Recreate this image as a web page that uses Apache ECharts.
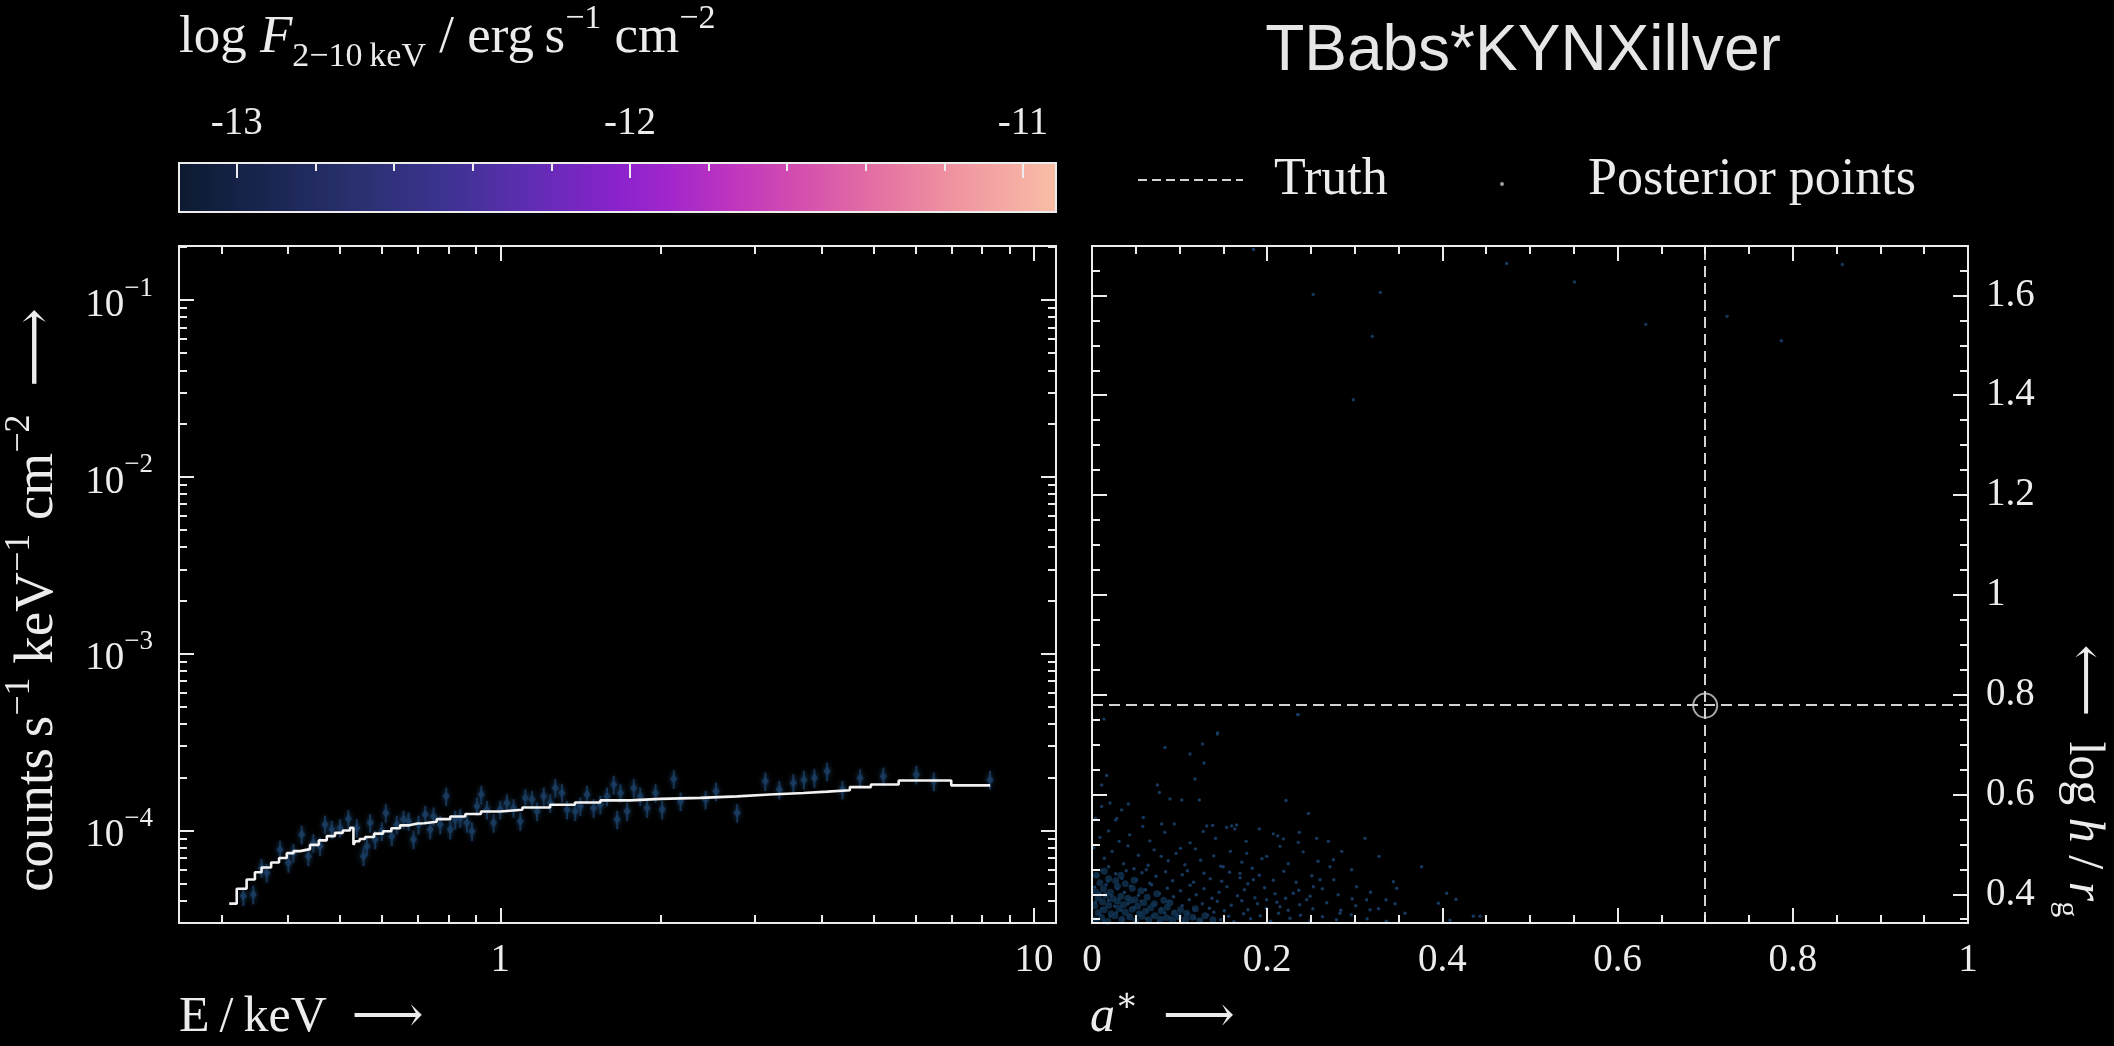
<!DOCTYPE html>
<html>
<head>
<meta charset="utf-8">
<script src="https://cdn.jsdelivr.net/npm/echarts@6/dist/echarts.min.js"></script>
<style>
  html, body { margin: 0; padding: 0; background: #000; }
  #chart { width: 2114px; height: 1046px; }
</style>
</head>
<body>
<div id="chart"></div>
<script>
// ---------- spectrum panel (counts vs energy) ----------
const energyRange = [0.25, 11];
const rateRange = [3.0e-5, 0.202];

// folded model, step histogram: bin left edges (keV) and rate in each bin
const modelEnergy = [0.3105, 0.3207, 0.3347, 0.3469, 0.357, 0.372, 0.385, 0.398, 0.41, 0.4215,
  0.44, 0.457, 0.473, 0.49, 0.507, 0.523, 0.5306, 0.535, 0.545, 0.558,
  0.58, 0.603, 0.625, 0.649, 0.675, 0.700, 0.705, 0.72, 0.76, 0.806,
  0.86, 0.92, 1.0, 1.1, 1.24, 1.38, 1.54, 1.75, 2.0, 2.37,
  2.78, 3.2, 3.7, 4.1, 4.52, 4.95, 5.58, 7.0, 8.28];
const modelRate = [3.86e-5, 4.69e-5, 5.29e-5, 5.81e-5, 6.18e-5, 6.6e-5, 7.0e-5, 7.45e-5, 7.65e-5, 7.85e-5,
  8.3e-5, 8.8e-5, 9.3e-5, 9.7e-5, 1.0e-4, 1.036e-4, 8.3e-5, 8.7e-5, 8.95e-5, 9.2e-5,
  9.6e-5, 9.9e-5, 1.03e-4, 1.07e-4, 1.095e-4, 1.08e-4, 1.1e-4, 1.12e-4, 1.16e-4, 1.20e-4,
  1.24e-4, 1.28e-4, 1.31e-4, 1.35e-4, 1.40e-4, 1.44e-4, 1.48e-4, 1.51e-4, 1.53e-4, 1.56e-4,
  1.60e-4, 1.63e-4, 1.66e-4, 1.69e-4, 1.76e-4, 1.82e-4, 1.92e-4, 1.80e-4, 1.80e-4];

// simulated observation
const dataEnergy = [0.330, 0.3445, 0.357, 0.365, 0.3866, 0.4009, 0.4096, 0.4245, 0.4369, 0.4465,
  0.4596, 0.4695, 0.4833, 0.5010, 0.5192, 0.5384, 0.5542, 0.5623, 0.5704, 0.5829,
  0.5998, 0.6102, 0.6262, 0.6399, 0.6586, 0.6730, 0.6877, 0.7027, 0.7234, 0.7391,
  0.7497, 0.7718, 0.7918, 0.8058, 0.8233, 0.8414, 0.8660, 0.8849, 0.9043, 0.9213,
  0.9441, 0.9716, 1.0, 1.029, 1.059, 1.090, 1.114, 1.147, 1.172, 1.206,
  1.241, 1.268, 1.305, 1.334, 1.382, 1.413, 1.454, 1.496, 1.540, 1.585,
  1.632, 1.656, 1.680, 1.729, 1.779, 1.830, 1.884, 1.954, 2.011, 2.114, 2.177,
  2.425, 2.537,
  2.779, 3.138, 3.334, 3.542, 3.706, 3.879, 4.097, 4.377, 4.724, 5.221, 6.020, 6.493, 8.274];
const dataRate = [4.26e-5, 4.35e-5, 6.16e-5, 5.77e-5, 7.81e-5, 6.57e-5, 7.48e-5, 9.49e-5, 7.16e-5, 8.52e-5,
  8.16e-5, 1.081e-4, 1.013e-4, 1.035e-4, 1.164e-4, 1.035e-4, 7.16e-5, 8.16e-5, 1.105e-4, 8.90e-5,
  9.91e-5, 1.258e-4, 9.29e-5, 1.081e-4, 1.154e-4, 1.129e-4, 8.90e-5, 1.081e-4, 1.231e-4, 1.013e-4,
  1.205e-4, 1.081e-4, 1.562e-4, 1.013e-4, 1.154e-4, 1.179e-4, 1.105e-4, 9.91e-5, 1.372e-4, 1.597e-4,
  1.314e-4, 1.105e-4, 1.314e-4, 1.432e-4, 1.342e-4, 1.129e-4, 1.529e-4, 1.496e-4, 1.285e-4, 1.562e-4,
  1.432e-4, 1.741e-4, 1.632e-4, 1.314e-4, 1.285e-4, 1.372e-4, 1.597e-4, 1.342e-4, 1.402e-4, 1.562e-4,
  1.818e-4, 1.154e-4, 1.632e-4, 1.285e-4, 1.741e-4, 1.562e-4, 1.342e-4, 1.632e-4, 1.314e-4, 1.957e-4, 1.463e-4,
  1.496e-4, 1.667e-4,
  1.259e-4, 1.897e-4, 1.704e-4, 1.858e-4, 1.940e-4, 1.983e-4, 2.161e-4, 1.704e-4, 1.983e-4, 2.025e-4, 2.070e-4, 1.897e-4, 1.940e-4];
const dataRelErr = 0.12;

const energyMajorTicks = [1, 10];
const energyMinorTicks = [0.3, 0.4, 0.5, 0.6, 0.7, 0.8, 0.9, 2, 3, 4, 5, 6, 7, 8, 9];
const rateMajorTicks = [1e-4, 1e-3, 1e-2, 1e-1];
const rateMinorTicks = [4e-5, 5e-5, 6e-5, 7e-5, 8e-5, 9e-5,
  2e-4, 3e-4, 4e-4, 5e-4, 6e-4, 7e-4, 8e-4, 9e-4,
  2e-3, 3e-3, 4e-3, 5e-3, 6e-3, 7e-3, 8e-3, 9e-3,
  2e-2, 3e-2, 4e-2, 5e-2, 6e-2, 7e-2, 8e-2, 9e-2, 0.2];

// ---------- posterior panel (spin vs log height) ----------
const spinRange = [0, 1];
const logHRange = [0.3424, 1.699];
const truthSpin = 0.7;
const truthLogH = 0.778;
const spinMajorTicks = [0, 0.2, 0.4, 0.6, 0.8, 1];
const spinMinorTicks = [0.05, 0.1, 0.15, 0.25, 0.3, 0.35, 0.45, 0.5, 0.55, 0.65, 0.7, 0.75, 0.85, 0.9, 0.95];
const logHMajorTicks = [0.4, 0.6, 0.8, 1.0, 1.2, 1.4, 1.6];
const logHMinorTicks = [0.35, 0.45, 0.5, 0.55, 0.65, 0.7, 0.75, 0.85, 0.9, 0.95, 1.05, 1.1, 1.15,
  1.25, 1.3, 1.35, 1.45, 1.5, 1.55, 1.65];

// posterior samples [a*, log h]: stray samples far from the bulk
const posteriorOutliers = [
  [0.1843, 1.692], [0.2525, 1.602], [0.3292, 1.606], [0.4733, 1.664], [0.5507, 1.627], [0.6321, 1.542],
  [0.3200, 1.518], [0.2983, 1.391], [0.7249, 1.558], [0.7869, 1.509], [0.8566, 1.662], [0.2347, 0.760], [0.1434, 0.723],
  [0.0137, 0.751], [0.2355, 0.760], [0.1431, 0.721], [0.0833, 0.694], [0.1263, 0.701], [0.1119, 0.681],
  [0.1279, 0.663], [0.0167, 0.638], [0.0110, 0.619], [0.1176, 0.631], [0.0746, 0.619], [0.0769, 0.604],
  [0.0890, 0.591], [0.1024, 0.589], [0.1225, 0.589], [0.2215, 0.588], [0.0415, 0.581], [0.0205, 0.583],
  [0.0110, 0.576], [0.0339, 0.569], [0.2470, 0.562], [0.0586, 0.554], [0.0795, 0.541], [0.0282, 0.552],
  [0.1309, 0.537], [0.1377, 0.538], [0.1594, 0.537], [0.1651, 0.539], [0.1537, 0.534], [0.1910, 0.531],
  [0.2070, 0.521], [0.2367, 0.524], [0.2184, 0.511], [0.2355, 0.504], [0.2565, 0.512], [0.2698, 0.506],
  [0.3116, 0.512], [0.2850, 0.486], [0.3276, 0.476], [0.3763, 0.455], [0.4049, 0.402], [0.4155, 0.390],
  [0.3954, 0.382], [0.3440, 0.425], [0.3478, 0.412], [0.3356, 0.389], [0.3135, 0.389], [0.3021, 0.415],
  [0.2964, 0.449], [0.2755, 0.469], [0.2717, 0.455], [0.2603, 0.429], [0.2527, 0.415], [0.2451, 0.389],
  [0.2146, 0.375], [0.2298, 0.402], [0.1994, 0.389], [0.1842, 0.429], [0.1689, 0.442], [0.1499, 0.455],
  [0.1766, 0.482], [0.1994, 0.476], [0.2146, 0.496], [0.4353, 0.356], [0.4429, 0.356], [0.4087, 0.348],
  [0.3573, 0.362], [0.3174, 0.369], [0.2831, 0.362]
];
// bulk of the posterior cloud
const posteriorBulk = [
  [0.004, 0.552], [0.019, 0.527], [0.027, 0.549], [0.043, 0.519], [0.058, 0.536], [0.066, 0.507],
  [0.083, 0.524], [0.094, 0.541], [0.112, 0.503], [0.127, 0.526], [0.141, 0.512], [0.163, 0.531],
  [0.176, 0.506], [0.212, 0.517], [0.031, 0.506], [0.009, 0.514],
  [0.002, 0.493], [0.014, 0.472], [0.023, 0.486], [0.036, 0.461], [0.041, 0.497], [0.053, 0.478],
  [0.064, 0.458], [0.071, 0.489], [0.087, 0.467], [0.096, 0.482], [0.106, 0.459], [0.118, 0.491],
  [0.124, 0.468], [0.139, 0.477], [0.147, 0.456], [0.158, 0.486], [0.171, 0.464], [0.183, 0.452],
  [0.194, 0.471], [0.224, 0.461], [0.241, 0.485], [0.258, 0.466], [0.019, 0.455], [0.048, 0.451],
  [0.079, 0.476], [0.101, 0.492],
  [0.005, 0.437], [0.011, 0.448], [0.018, 0.426], [0.027, 0.441], [0.034, 0.432], [0.039, 0.447],
  [0.051, 0.429], [0.057, 0.443], [0.066, 0.422], [0.073, 0.436], [0.084, 0.445], [0.092, 0.427],
  [0.103, 0.439], [0.116, 0.424], [0.128, 0.442], [0.135, 0.431], [0.148, 0.426], [0.157, 0.444],
  [0.169, 0.433], [0.178, 0.421], [0.191, 0.438], [0.207, 0.428], [0.219, 0.446], [0.233, 0.424],
  [0.251, 0.437], [0.276, 0.429], [0.062, 0.449], [0.109, 0.447],
  [0.003, 0.414], [0.009, 0.402], [0.016, 0.419], [0.022, 0.397], [0.029, 0.411], [0.037, 0.404],
  [0.044, 0.416], [0.053, 0.398], [0.061, 0.409], [0.068, 0.419], [0.077, 0.401], [0.086, 0.412],
  [0.093, 0.395], [0.101, 0.407], [0.112, 0.418], [0.119, 0.399], [0.128, 0.411], [0.137, 0.392],
  [0.145, 0.404], [0.154, 0.415], [0.166, 0.397], [0.174, 0.409], [0.186, 0.393], [0.197, 0.413],
  [0.209, 0.401], [0.221, 0.392], [0.236, 0.408], [0.249, 0.396], [0.263, 0.411], [0.281, 0.399],
  [0.297, 0.391], [0.318, 0.404],
  [0.004, 0.384], [0.011, 0.371], [0.019, 0.388], [0.026, 0.376], [0.033, 0.368], [0.041, 0.381],
  [0.048, 0.373], [0.056, 0.386], [0.063, 0.367], [0.071, 0.379], [0.079, 0.371], [0.087, 0.385],
  [0.094, 0.366], [0.103, 0.377], [0.111, 0.389], [0.117, 0.369], [0.126, 0.381], [0.134, 0.372],
  [0.143, 0.386], [0.151, 0.367], [0.159, 0.378], [0.171, 0.387], [0.178, 0.369], [0.189, 0.381],
  [0.199, 0.372], [0.211, 0.384], [0.224, 0.368], [0.237, 0.379], [0.252, 0.371], [0.268, 0.383],
  [0.284, 0.368], [0.301, 0.377], [0.327, 0.371], [0.346, 0.381],
  [0.003, 0.352], [0.009, 0.361], [0.014, 0.347], [0.021, 0.356], [0.028, 0.363], [0.035, 0.349],
  [0.042, 0.358], [0.049, 0.345], [0.055, 0.362], [0.062, 0.351], [0.069, 0.357], [0.076, 0.346],
  [0.083, 0.363], [0.089, 0.353], [0.096, 0.359], [0.104, 0.345], [0.109, 0.361], [0.117, 0.352],
  [0.124, 0.347], [0.132, 0.358], [0.139, 0.364], [0.147, 0.349], [0.156, 0.356], [0.162, 0.345],
  [0.173, 0.361], [0.181, 0.351], [0.192, 0.357], [0.204, 0.346], [0.213, 0.362], [0.226, 0.352],
  [0.238, 0.358], [0.249, 0.347], [0.263, 0.355], [0.279, 0.349], [0.296, 0.359], [0.314, 0.351],
  [0.336, 0.346]
];
// densest part of the cloud, drawn with larger dots
const posteriorCore = [
  [0.004, 0.348], [0.011, 0.353], [0.018, 0.346], [0.026, 0.357], [0.034, 0.350], [0.043, 0.355],
  [0.050, 0.347], [0.057, 0.356], [0.065, 0.349], [0.007, 0.363], [0.014, 0.369], [0.022, 0.361],
  [0.031, 0.372], [0.038, 0.364], [0.046, 0.370], [0.054, 0.361], [0.061, 0.366], [0.003, 0.377],
  [0.012, 0.385], [0.019, 0.378], [0.029, 0.386], [0.036, 0.379], [0.044, 0.388], [0.052, 0.376],
  [0.059, 0.383], [0.007, 0.393], [0.016, 0.398], [0.024, 0.391], [0.033, 0.396], [0.041, 0.392],
  [0.049, 0.389], [0.067, 0.373], [0.072, 0.357], [0.078, 0.350], [0.085, 0.353], [0.092, 0.348],
  [0.099, 0.355], [0.107, 0.350], [0.115, 0.354], [0.123, 0.347], [0.004, 0.405], [0.013, 0.411],
  [0.021, 0.404], [0.029, 0.416],
  [0.071, 0.381], [0.079, 0.367], [0.086, 0.374], [0.094, 0.362], [0.101, 0.369], [0.063, 0.394],
  [0.074, 0.401], [0.082, 0.388], [0.056, 0.407], [0.046, 0.412], [0.038, 0.421], [0.009, 0.423],
  [0.019, 0.431], [0.027, 0.427], [0.005, 0.438], [0.014, 0.446], [0.033, 0.438], [0.048, 0.428],
  [0.089, 0.383], [0.108, 0.362], [0.118, 0.371], [0.129, 0.357], [0.138, 0.349]
];

// ---------- colour bar: log F(2-10 keV) ----------
const fluxRange = [-13.147, -10.916];
const fluxMajorTicks = [-13, -12, -11];
const fluxMinorTicks = [-12.8, -12.6, -12.4, -12.2, -11.8, -11.6, -11.4, -11.2];
const fluxColorStops = [
  [0.00, '#0c1a30'], [0.10, '#1a2550'], [0.20, '#29306e'], [0.30, '#3b338f'],
  [0.40, '#5f2db3'], [0.50, '#8a22cc'], [0.56, '#a126cb'], [0.63, '#bf35bf'],
  [0.71, '#d44fae'], [0.79, '#e36ea3'], [0.88, '#ef92a0'], [1.00, '#f9bea6']
];

// ---------- styling ----------
const FG = '#ececec';
const SERIF = '"Liberation Serif", "DejaVu Serif", serif';
const SANS = '"Liberation Sans", Arial, sans-serif';
const POINT_BLUE = '#1a3d62';
const CLOUD_BLUE = '#173c64';
const MAJOR_LEN = 15, MINOR_LEN = 8;

// one axis with major ticks (and optional labels) plus a twin carrying minor ticks
function tickAxes(base, majors, minors, label) {
  const major = Object.assign({ z: 10 }, base, {
    axisLine: { show: false, onZero: false },
    axisTick: { show: true, inside: true, length: MAJOR_LEN, customValues: majors,
      lineStyle: { color: FG, width: 2 } },
    axisLabel: label ? Object.assign({ show: true, customValues: majors, color: FG,
      fontFamily: SERIF, fontSize: 39 }, label) : { show: false },
    splitLine: { show: false }
  });
  const minor = Object.assign({ z: 10 }, base, {
    axisLine: { show: false, onZero: false },
    axisTick: { show: true, inside: true, length: MINOR_LEN, customValues: minors,
      lineStyle: { color: FG, width: 2 } },
    axisLabel: { show: false },
    splitLine: { show: false }
  });
  return [major, minor];
}

const powerLabel = {
  margin: 26,
  formatter: v => '{b|10}{s|\u2212' + Math.abs(Math.round(Math.log10(v))) + '}',
  rich: {
    b: { fontFamily: SERIF, fontSize: 39, color: FG, lineHeight: 50, verticalAlign: 'bottom' },
    s: { fontFamily: SERIF, fontSize: 27, color: FG, lineHeight: 36, verticalAlign: 'top' }
  }
};
const decimalLabel = v => (Math.abs(v) < 1e-9 ? '0' : Math.abs(v - 1) < 1e-9 ? '1' : v.toFixed(1));

const energyBase = { type: 'log', gridIndex: 0, min: energyRange[0], max: energyRange[1] };
const rateBase = { type: 'log', gridIndex: 0, min: rateRange[0], max: rateRange[1] };
const spinBase = { type: 'value', gridIndex: 1, min: spinRange[0], max: spinRange[1] };
const logHBase = { type: 'value', gridIndex: 1, min: logHRange[0], max: logHRange[1] };
const fluxBase = { type: 'value', gridIndex: 2, min: fluxRange[0], max: fluxRange[1], position: 'top' };

const xAxes = [].concat(
  tickAxes(Object.assign({ position: 'bottom' }, energyBase), energyMajorTicks, energyMinorTicks,
    { margin: 18, formatter: v => String(Math.round(v)) }),
  tickAxes(Object.assign({ position: 'top' }, energyBase), energyMajorTicks, energyMinorTicks, null),
  tickAxes(Object.assign({ position: 'bottom' }, spinBase), spinMajorTicks, spinMinorTicks,
    { margin: 18, formatter: decimalLabel }),
  tickAxes(Object.assign({ position: 'top' }, spinBase), spinMajorTicks, spinMinorTicks, null),
  tickAxes(fluxBase, fluxMajorTicks, fluxMinorTicks, { margin: 20, formatter: v => String(v) })
);
const yAxes = [].concat(
  tickAxes(Object.assign({ position: 'left' }, rateBase), rateMajorTicks, rateMinorTicks, powerLabel),
  tickAxes(Object.assign({ position: 'right' }, rateBase), rateMajorTicks, rateMinorTicks, null),
  tickAxes(Object.assign({ position: 'left' }, logHBase), logHMajorTicks, logHMinorTicks, null),
  tickAxes(Object.assign({ position: 'right' }, logHBase), logHMajorTicks, logHMinorTicks,
    { margin: 18, formatter: decimalLabel }),
  [{ type: 'value', gridIndex: 2, min: 0, max: 1, show: false }]
);
// axis indices: x -> spectrum 0..3, posterior 4..7, colour bar 8..9 ; y -> spectrum 0..3, posterior 4..7, bar 8

const modelData = modelEnergy.map((e, i) => [e, modelRate[i]]);
const observed = dataEnergy.map((e, i) => [e, dataRate[i]]);

const chart = echarts.init(document.getElementById('chart'), null, { renderer: 'canvas' });

const frame = { show: true, borderColor: FG, borderWidth: 2, backgroundColor: 'transparent', z: 10 };

chart.setOption({
  backgroundColor: '#000',
  animation: false,
  grid: [
    Object.assign({ left: 179, top: 246, width: 877, height: 677 }, frame),
    Object.assign({ left: 1092, top: 246, width: 876, height: 677 }, frame),
    Object.assign({ left: 179, top: 163, width: 877, height: 49 }, frame)
  ],
  xAxis: xAxes,
  yAxis: yAxes,
  series: [
    {
      name: 'colour bar', type: 'custom', xAxisIndex: 8, yAxisIndex: 8, z: 1,
      data: [[fluxRange[0], fluxRange[1]]],
      renderItem: (params, api) => {
        const a = api.coord([api.value(0), 1]);
        const b = api.coord([api.value(1), 0]);
        return {
          type: 'rect',
          shape: { x: a[0], y: a[1], width: b[0] - a[0], height: b[1] - a[1] },
          style: { fill: new echarts.graphic.LinearGradient(0, 0, 1, 0,
            fluxColorStops.map(s => ({ offset: s[0], color: s[1] }))) }
        };
      }
    },
    {
      name: 'data', type: 'custom', xAxisIndex: 0, yAxisIndex: 0, z: 3,
      data: observed,
      renderItem: (params, api) => {
        const e = api.value(0), r = api.value(1);
        const c = api.coord([e, r]);
        const lo = api.coord([e, r * (1 - dataRelErr)]);
        const hi = api.coord([e, r * (1 + dataRelErr)]);
        const s = 4.5;
        return {
          type: 'group',
          children: [
            { type: 'line', shape: { x1: c[0], y1: lo[1], x2: c[0], y2: hi[1] },
              style: { stroke: POINT_BLUE, lineWidth: 2, opacity: 0.8,
                shadowBlur: 4, shadowColor: POINT_BLUE } },
            { type: 'polygon',
              shape: { points: [[c[0], c[1] - s], [c[0] + s * 0.8, c[1]], [c[0], c[1] + s], [c[0] - s * 0.8, c[1]]] },
              style: { fill: POINT_BLUE, opacity: 0.85, shadowBlur: 5, shadowColor: POINT_BLUE } }
          ]
        };
      }
    },
    {
      name: 'model', type: 'line', xAxisIndex: 0, yAxisIndex: 0, z: 5,
      data: modelData, step: 'end', showSymbol: false, symbol: 'none',
      lineStyle: { color: '#f2f2f2', width: 2.6 }
    },
    {
      name: 'Posterior points', type: 'scatter', xAxisIndex: 4, yAxisIndex: 4, z: 2,
      data: posteriorOutliers.concat(posteriorBulk), symbolSize: 3.4,
      itemStyle: { color: CLOUD_BLUE, opacity: 0.95 },
      markLine: {
        silent: true, symbol: 'none', label: { show: false },
        lineStyle: { color: '#d2d2d2', width: 2, type: [11, 6] },
        data: [{ xAxis: truthSpin }, { yAxis: truthLogH }]
      }
    },
    {
      name: 'core', type: 'scatter', xAxisIndex: 4, yAxisIndex: 4, z: 2,
      data: posteriorCore, symbolSize: 7,
      itemStyle: { color: '#11314f', opacity: 0.85 }
    },
    {
      name: 'Truth', type: 'scatter', xAxisIndex: 4, yAxisIndex: 4, z: 6,
      data: [[truthSpin, truthLogH]], symbol: 'circle', symbolSize: 24,
      itemStyle: { color: 'rgba(0,0,0,0)', borderColor: '#d2d2d2', borderWidth: 2 }
    }
  ],
  graphic: [
    // colour-bar title
    { type: 'text', x: 179, y: 38, silent: true,
      style: {
        text: '{n|log }{i|F}{sub|2\u221210\u2009keV}{n| / erg\u2009s}{sup|\u22121}{n| cm}{sup|\u22122}',
        align: 'left', verticalAlign: 'middle', fill: FG,
        rich: {
          n: { fontFamily: SERIF, fontSize: 53, fill: FG, lineHeight: 72, verticalAlign: 'middle' },
          i: { fontFamily: SERIF, fontSize: 53, fontStyle: 'italic', fill: FG, lineHeight: 72, verticalAlign: 'middle' },
          sub: { fontFamily: SERIF, fontSize: 34, fill: FG, lineHeight: 42, verticalAlign: 'bottom' },
          sup: { fontFamily: SERIF, fontSize: 34, fill: FG, lineHeight: 46, verticalAlign: 'top' }
        }
      } },
    // model name
    { type: 'text', x: 1523, y: 52, silent: true,
      style: { text: 'TBabs*KYNXillver', align: 'center', verticalAlign: 'middle',
        fontFamily: SANS, fontSize: 64, fill: '#e6e6e6' } },
    // legend
    { type: 'line', silent: true, shape: { x1: 1138, y1: 180, x2: 1243, y2: 180 },
      style: { stroke: '#d2d2d2', lineWidth: 2, lineDash: [9, 5] } },
    { type: 'text', x: 1274, y: 180, silent: true,
      style: { text: 'Truth', align: 'left', verticalAlign: 'middle', fontFamily: SERIF, fontSize: 52, fill: FG } },
    { type: 'circle', silent: true, shape: { cx: 1502, cy: 184, r: 2 }, style: { fill: '#9a9a9a' } },
    { type: 'text', x: 1588, y: 180, silent: true,
      style: { text: 'Posterior points', align: 'left', verticalAlign: 'middle', fontFamily: SERIF, fontSize: 52, fill: FG } },
    // axis titles
    { type: 'text', x: 179, y: 1018, silent: true,
      style: { text: 'E\u2009/\u2009keV  \u27F6', align: 'left', verticalAlign: 'middle',
        fontFamily: SERIF, fontSize: 50, fill: FG } },
    { type: 'text', x: 1090, y: 1018, silent: true,
      style: {
        text: '{i|a}{sup|\u2217}{n|  \u27F6}', align: 'left', verticalAlign: 'middle', fill: FG,
        rich: {
          n: { fontFamily: SERIF, fontSize: 50, fill: FG, lineHeight: 66, verticalAlign: 'middle' },
          i: { fontFamily: SERIF, fontSize: 50, fontStyle: 'italic', fill: FG, lineHeight: 66, verticalAlign: 'middle' },
          sup: { fontFamily: SERIF, fontSize: 34, fill: FG, lineHeight: 40, verticalAlign: 'top' }
        }
      } },
    { type: 'text', x: 38, y: 600, rotation: Math.PI / 2, silent: true,
      style: {
        text: '{n|counts\u2009s}{sup|\u22121}{n| keV}{sup|\u22121}{n| cm}{sup|\u22122}{n|  \u27F6}',
        align: 'center', verticalAlign: 'middle', fill: FG,
        rich: {
          n: { fontFamily: SERIF, fontSize: 55, fill: FG, lineHeight: 72, verticalAlign: 'middle' },
          sup: { fontFamily: SERIF, fontSize: 36, fill: FG, lineHeight: 48, verticalAlign: 'top' }
        }
      } },
    { type: 'text', x: 2083, y: 781, rotation: -Math.PI / 2, silent: true,
      style: {
        text: '{n|\u27F5  log }{i|h}{n| / }{i|r}{sub|g}',
        align: 'center', verticalAlign: 'middle', fill: FG,
        rich: {
          n: { fontFamily: SERIF, fontSize: 50, fill: FG, lineHeight: 66, verticalAlign: 'middle' },
          i: { fontFamily: SERIF, fontSize: 50, fontStyle: 'italic', fill: FG, lineHeight: 66, verticalAlign: 'middle' },
          sub: { fontFamily: SERIF, fontSize: 32, fill: FG, lineHeight: 40, verticalAlign: 'bottom' }
        }
      } }
  ]
});
</script>
</body>
</html>
